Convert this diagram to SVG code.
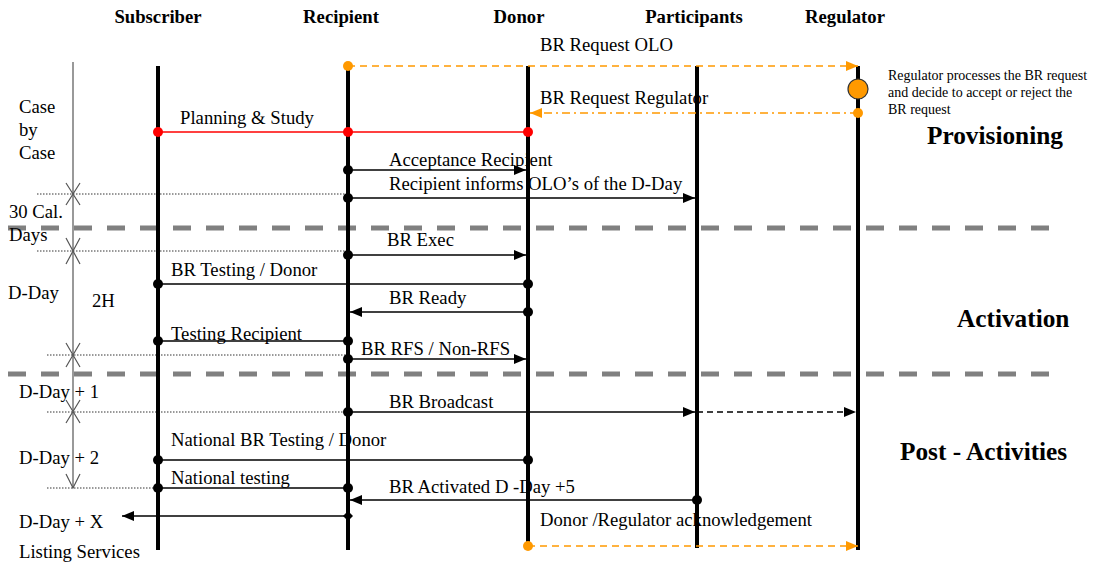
<svg xmlns="http://www.w3.org/2000/svg" width="1096" height="562" viewBox="0 0 1096 562">
  <defs>
    <style>
      text { font-family: "Liberation Serif", "Times New Roman", serif; fill: #000; }
      .hdr { font-size: 18.7px; font-weight: bold; }
      .lbl { font-size: 18.7px; }
      .phase { font-size: 25.3px; font-weight: bold; }
      .note { font-size: 14px; }
      .life { stroke: #000; stroke-width: 4; }
      .msg { stroke: #000; stroke-width: 1.5; fill: none; }
      .msgd { stroke: #000; stroke-width: 1.5; fill: none; stroke-dasharray: 6 4; }
      .orange { stroke: #FF9900; stroke-width: 1.5; fill: none; stroke-dasharray: 7 5; }
      .orange-dd { stroke: #FF9900; stroke-width: 1.5; fill: none; stroke-dasharray: 8 4 2 4; }
      .red { stroke: #FF0000; stroke-width: 1.5; }
      .sep { stroke: #808080; stroke-width: 5; stroke-dasharray: 18 15; }
      .guide { stroke: #000; stroke-width: 0.8; stroke-dasharray: 1.5 1.5; }
      .time { stroke: #555; stroke-width: 1.2; fill: none; }
      .dot { fill: #000; }
      .rdot { fill: #FF0000; }
      .odot { fill: #FF9900; }
    </style>
    <marker id="arr" viewBox="0 0 12 10" refX="12" refY="5" markerWidth="12" markerHeight="10" markerUnits="userSpaceOnUse" orient="auto">
      <path d="M0,0 L12,5 L0,10 Z" fill="#000"/>
    </marker>
    <marker id="arrO" viewBox="0 0 12 10" refX="12" refY="5" markerWidth="12" markerHeight="10" markerUnits="userSpaceOnUse" orient="auto">
      <path d="M0,0 L12,5 L0,10 Z" fill="#FF9900"/>
    </marker>
  </defs>

  <!-- phase separators -->
  <g id="separators">
    <line class="sep" x1="8" y1="228" x2="1060" y2="228"/>
    <line class="sep" x1="8" y1="374" x2="1060" y2="374"/>
  </g>

  <!-- dotted time guides -->
  <g id="guides">
    <line class="guide" x1="37" y1="194" x2="348" y2="194"/>
    <line class="guide" x1="37" y1="251" x2="348" y2="251"/>
    <line class="guide" x1="47" y1="355" x2="348" y2="355"/>
    <line class="guide" x1="47" y1="412" x2="348" y2="412"/>
    <line class="guide" x1="47" y1="488" x2="158" y2="488"/>
  </g>

  <!-- timeline on the left -->
  <g id="timeline">
    <line class="time" x1="73" y1="62" x2="73" y2="488"/>
    <path class="time" d="M66,183 L80,205 M80,183 L66,205"/>
    <path class="time" d="M66,238 L73,251 L80,238 M66,264 L73,251 L80,264"/>
    <path class="time" d="M66,343 L80,367 M80,343 L66,367"/>
    <path class="time" d="M66,400 L80,423 M80,400 L66,423"/>
    <path class="time" d="M66,474 L73,488 L80,474"/>
    <text class="lbl" x="19" y="113">Case</text>
    <text class="lbl" x="19" y="136">by</text>
    <text class="lbl" x="19" y="159">Case</text>
    <text class="lbl" x="9" y="218">30 Cal.</text>
    <text class="lbl" x="9" y="241">Days</text>
    <text class="lbl" x="8" y="299">D-Day</text>
    <text class="lbl" x="92" y="307">2H</text>
    <text class="lbl" x="19" y="398">D-Day + 1</text>
    <text class="lbl" x="19" y="464">D-Day + 2</text>
    <text class="lbl" x="19" y="528">D-Day + X</text>
    <text class="lbl" x="19" y="558">Listing Services</text>
  </g>

  <!-- participants -->
  <g id="subscriber">
    <text class="hdr" x="158" y="23" text-anchor="middle">Subscriber</text>
    <line class="life" x1="158" y1="66" x2="158" y2="550"/>
  </g>
  <g id="recipient">
    <text class="hdr" x="341" y="23" text-anchor="middle">Recipient</text>
    <line class="life" x1="348" y1="66" x2="348" y2="550"/>
  </g>
  <g id="donor">
    <text class="hdr" x="519" y="23" text-anchor="middle">Donor</text>
    <line class="life" x1="528" y1="66" x2="528" y2="546"/>
  </g>
  <g id="participants">
    <text class="hdr" x="694" y="23" text-anchor="middle">Participants</text>
    <line class="life" x1="697" y1="66" x2="697" y2="548"/>
  </g>
  <g id="regulator">
    <text class="hdr" x="845" y="23" text-anchor="middle">Regulator</text>
    <line class="life" x1="858" y1="66" x2="858" y2="550"/>
    <circle cx="858" cy="89" r="10" fill="#FF9900" stroke="#333" stroke-width="1.2"/>
    <text class="note" x="888" y="80">Regulator processes the BR request</text>
    <text class="note" x="888" y="97">and decide to accept or reject the</text>
    <text class="note" x="888" y="114">BR request</text>
  </g>

  <!-- phase titles -->
  <g id="phases">
    <text class="phase" x="927" y="144">Provisioning</text>
    <text class="phase" x="957" y="327">Activation</text>
    <text class="phase" x="900" y="460">Post - Activities</text>
  </g>

  <!-- messages -->
  <g id="connectors">
    <!-- BR Request OLO -->
    <line class="orange" x1="348" y1="66" x2="858" y2="66" marker-end="url(#arrO)"/>
    <circle class="odot" cx="348" cy="66" r="5"/>
    <text class="lbl" x="540" y="51">BR Request OLO</text>

    <!-- BR Request Regulator -->
    <line class="orange-dd" x1="858" y1="113" x2="530" y2="113" marker-end="url(#arrO)"/>
    <circle class="odot" cx="858" cy="113" r="5"/>
    <text class="lbl" x="540" y="104">BR Request Regulator</text>

    <!-- Planning & Study -->
    <line class="red" x1="158" y1="132" x2="528" y2="132"/>
    <circle class="rdot" cx="158" cy="132" r="5"/>
    <circle class="rdot" cx="348" cy="132" r="5"/>
    <circle class="rdot" cx="528" cy="132" r="5"/>
    <text class="lbl" x="180" y="124">Planning &amp; Study</text>

    <!-- Acceptance Recipient -->
    <line class="msg" x1="348" y1="170" x2="526" y2="170" marker-end="url(#arr)"/>
    <circle class="dot" cx="348" cy="170" r="5"/>
    <text class="lbl" x="389" y="166">Acceptance Recipient</text>

    <!-- Recipient informs OLO's -->
    <line class="msg" x1="348" y1="198" x2="695" y2="198" marker-end="url(#arr)"/>
    <circle class="dot" cx="348" cy="198" r="5"/>
    <text class="lbl" x="389" y="190">Recipient informs OLO’s of the D-Day</text>

    <!-- BR Exec -->
    <line class="msg" x1="348" y1="255" x2="526" y2="255" marker-end="url(#arr)"/>
    <circle class="dot" cx="348" cy="255" r="5"/>
    <text class="lbl" x="387" y="246">BR Exec</text>

    <!-- BR Testing / Donor -->
    <line class="msg" x1="158" y1="284" x2="528" y2="284"/>
    <circle class="dot" cx="158" cy="284" r="5"/>
    <circle class="dot" cx="528" cy="284" r="5"/>
    <text class="lbl" x="171" y="276">BR Testing / Donor</text>

    <!-- BR Ready -->
    <line class="msg" x1="528" y1="312" x2="350" y2="312" marker-end="url(#arr)"/>
    <circle class="dot" cx="528" cy="312" r="5"/>
    <text class="lbl" x="389" y="304">BR Ready</text>

    <!-- Testing Recipient -->
    <line class="msg" x1="158" y1="341" x2="348" y2="341"/>
    <circle class="dot" cx="158" cy="341" r="5"/>
    <circle class="dot" cx="348" cy="341" r="5"/>
    <text class="lbl" x="171" y="340">Testing Recipient</text>

    <!-- BR RFS / Non-RFS -->
    <line class="msg" x1="348" y1="359" x2="526" y2="359" marker-end="url(#arr)"/>
    <circle class="dot" cx="348" cy="359" r="5"/>
    <text class="lbl" x="361" y="355">BR RFS / Non-RFS</text>

    <!-- BR Broadcast -->
    <line class="msg" x1="348" y1="412" x2="695" y2="412" marker-end="url(#arr)"/>
    <line class="msgd" x1="697" y1="412" x2="856" y2="412" marker-end="url(#arr)"/>
    <circle class="dot" cx="348" cy="412" r="5"/>
    <text class="lbl" x="389" y="408">BR Broadcast</text>

    <!-- National BR Testing / Donor -->
    <line class="msg" x1="158" y1="460" x2="528" y2="460"/>
    <circle class="dot" cx="158" cy="460" r="5"/>
    <circle class="dot" cx="528" cy="460" r="5"/>
    <text class="lbl" x="171" y="446">National BR Testing / Donor</text>

    <!-- National testing -->
    <line class="msg" x1="158" y1="488" x2="348" y2="488"/>
    <circle class="dot" cx="158" cy="488" r="5"/>
    <circle class="dot" cx="348" cy="488" r="5"/>
    <text class="lbl" x="171" y="484">National testing</text>

    <!-- BR Activated D -Day +5 -->
    <line class="msg" x1="697" y1="500" x2="350" y2="500" marker-end="url(#arr)"/>
    <circle class="dot" cx="697" cy="500" r="5"/>
    <text class="lbl" x="389" y="493">BR Activated D -Day +5</text>

    <!-- D-Day + X listing -->
    <line class="msg" x1="348" y1="516" x2="122" y2="516" marker-end="url(#arr)"/>
    <path d="M348,511 L353,516 L348,521 L343,516 Z" fill="#000"/>

    <!-- Donor / Regulator acknowledgement -->
    <line class="orange" x1="528" y1="546" x2="858" y2="546" marker-end="url(#arrO)"/>
    <circle class="odot" cx="528" cy="546" r="5"/>
    <text class="lbl" x="540" y="526">Donor /Regulator acknowledgement</text>
  </g>
</svg>
